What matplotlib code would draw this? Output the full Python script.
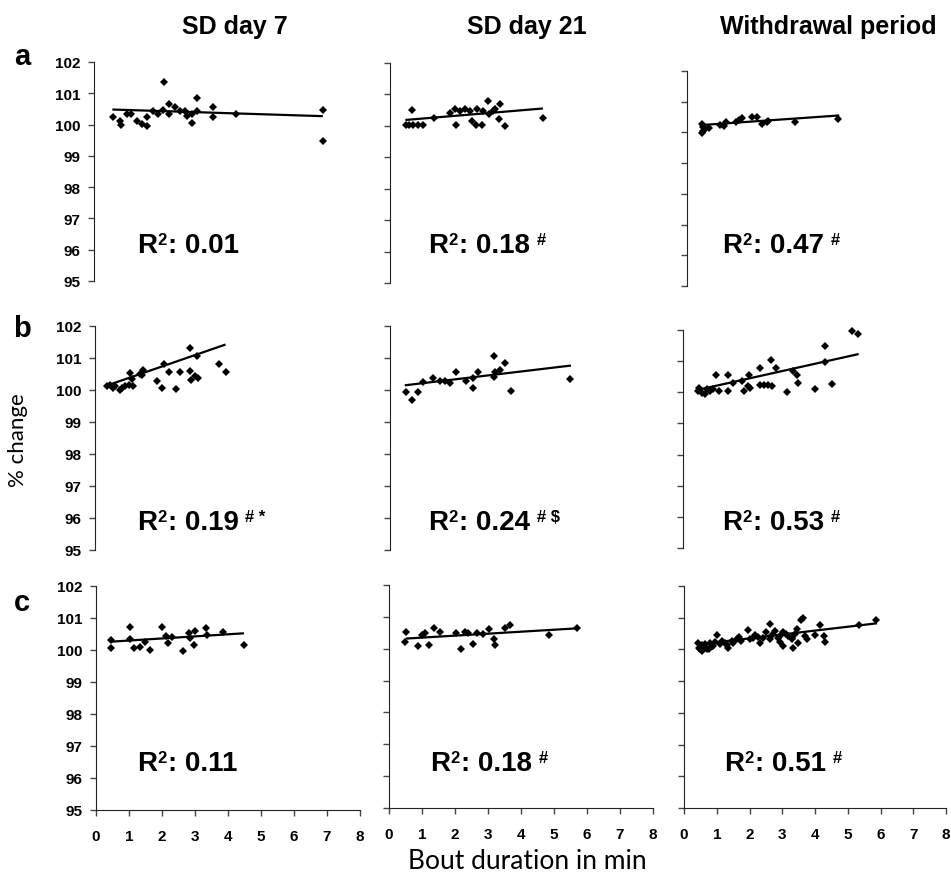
import matplotlib
matplotlib.use("Agg")
import matplotlib.pyplot as plt

plt.rcParams['font.family'] = ['Liberation Sans', 'DejaVu Sans']
plt.rcParams['font.weight'] = 'bold'

# ---- data (bout duration in min, % change) ----
col_titles = ["SD day 7", "SD day 21", "Withdrawal period"]
row_letters = ["a", "b", "c"]

a1_x = [0.57, 0.79, 0.81, 0.99, 1.11, 1.29, 1.44, 1.62, 1.60, 1.78, 1.95, 2.12, 2.10, 2.27,
        2.28, 2.45, 2.61, 2.76, 2.81, 2.96, 2.96, 3.11, 3.13, 3.62, 3.62, 4.29, 6.95, 6.95]
a1_y = [100.23, 100.13, 100.00, 100.34, 100.34, 100.13, 100.02, 99.95, 100.23, 100.44, 100.34,
        101.35, 100.48, 100.66, 100.34, 100.55, 100.44, 100.44, 100.28, 100.05, 100.34, 100.84,
        100.44, 100.55, 100.23, 100.34, 100.47, 99.49]
a2_x = [0.48, 0.59, 0.71, 0.86, 1.01, 0.66, 1.33, 1.82, 1.97, 2.00, 2.12, 2.27, 2.42, 2.48,
        2.63, 2.61, 2.78, 2.83, 2.98, 3.01, 3.13, 3.18, 3.33, 3.31, 3.48, 4.63]
a2_y = [100.02, 100.02, 100.02, 100.02, 100.02, 100.50, 100.26, 100.42, 100.53, 100.02, 100.48,
        100.53, 100.48, 100.16, 100.53, 100.02, 100.02, 100.48, 100.80, 100.37, 100.48, 100.53,
        100.69, 100.21, 99.99, 100.24]
a3_x = [0.45, 0.48, 0.50, 0.45, 0.55, 0.69, 1.02, 1.14, 1.20, 1.51, 1.61, 1.68, 1.99, 2.14,
        2.30, 2.45, 2.50, 3.32, 4.65]
a3_y = [100.27, 100.17, 100.06, 99.98, 100.11, 100.13, 100.24, 100.20, 100.33, 100.33, 100.41,
        100.47, 100.49, 100.49, 100.27, 100.33, 100.36, 100.33, 100.44]

b1_x = [0.35, 0.45, 0.54, 0.61, 0.74, 0.81, 0.91, 1.04, 1.06, 1.14, 1.11, 1.36, 1.44, 1.41,
        1.87, 2.02, 2.09, 2.24, 2.45, 2.58, 2.88, 2.88, 2.91, 3.03, 3.08, 3.10, 3.74, 3.94]
b1_y = [100.13, 100.16, 100.05, 100.11, 100.00, 100.05, 100.13, 100.16, 100.53, 100.11, 100.34,
        100.51, 100.64, 100.48, 100.27, 100.05, 100.80, 100.55, 100.02, 100.55, 101.30, 100.58,
        100.32, 100.45, 101.06, 100.37, 100.80, 100.55]
b2_x = [0.48, 0.66, 0.86, 1.01, 1.31, 1.52, 1.67, 1.82, 2.00, 2.30, 2.53, 2.53, 2.68, 3.15,
        3.15, 3.18, 3.33, 3.48, 3.66, 5.44]
b2_y = [99.93, 99.68, 99.93, 100.25, 100.36, 100.28, 100.28, 100.23, 100.57, 100.28, 100.36,
        100.07, 100.57, 101.05, 100.42, 100.57, 100.63, 100.84, 99.96, 100.33]
b3_x = [0.50, 0.47, 0.57, 0.67, 0.72, 0.82, 0.92, 1.01, 1.08, 1.38, 1.38, 1.52, 1.79, 1.86,
        1.99, 2.02, 2.04, 2.33, 2.35, 2.45, 2.60, 2.67, 2.70, 2.84, 3.16, 3.36, 3.47, 3.49,
        4.02, 4.33, 4.33, 4.53, 5.14, 5.31]
b3_y = [100.14, 100.03, 99.98, 99.93, 100.09, 100.03, 100.09, 100.54, 100.03, 100.54, 100.03,
        100.30, 100.35, 100.03, 100.19, 100.57, 100.14, 100.79, 100.25, 100.22, 100.22, 101.03,
        100.19, 100.79, 100.00, 100.68, 100.57, 100.30, 100.12, 101.48, 100.97, 100.28, 101.97,
        101.86]

c1_x = [0.45, 0.45, 1.02, 1.02, 1.16, 1.34, 1.49, 1.65, 2.00, 2.13, 2.17, 2.30, 2.65, 2.81,
        2.86, 2.98, 3.01, 3.34, 3.36, 3.85, 4.47]
c1_y = [100.31, 100.05, 100.72, 100.34, 100.05, 100.10, 100.26, 99.99, 100.72, 100.44, 100.23,
        100.41, 99.96, 100.52, 100.36, 100.17, 100.59, 100.69, 100.48, 100.57, 100.17]
c2_x = [0.52, 0.48, 0.89, 0.99, 1.09, 1.22, 1.36, 1.55, 2.03, 2.17, 2.30, 2.40, 2.56, 2.68,
        2.86, 3.04, 3.18, 3.21, 3.52, 3.67, 4.86, 5.71]
c2_y = [100.53, 100.21, 100.08, 100.43, 100.50, 100.11, 100.64, 100.53, 100.50, 100.00, 100.53,
        100.50, 100.14, 100.50, 100.46, 100.61, 100.32, 100.11, 100.64, 100.75, 100.43, 100.64]
c3_x = [0.44, 0.47, 0.54, 0.64, 0.69, 0.79, 0.85, 0.95, 1.02, 1.10, 1.25, 1.35, 1.46, 1.61,
        1.69, 1.96, 2.02, 2.17, 2.32, 2.42, 2.50, 2.63, 2.63, 2.78, 2.88, 2.93, 3.03, 3.03,
        3.19, 3.29, 3.34, 3.44, 3.49, 3.64, 3.69, 3.75, 4.00, 4.15, 4.27, 4.31, 5.35, 5.86,
        0.50, 0.55, 0.60, 0.75, 0.90, 1.15, 1.30, 1.50, 1.75, 2.10, 2.25, 2.70, 2.95, 3.10,
        3.30, 3.40, 3.58]
c3_y = [100.21, 100.05, 100.13, 100.16, 100.02, 100.21, 100.10, 100.23, 100.44, 100.16, 100.21,
        100.05, 100.26, 100.32, 100.40, 100.61, 100.32, 100.47, 100.21, 100.37, 100.55, 100.79,
        100.32, 100.58, 100.37, 100.23, 100.10, 100.55, 100.42, 100.33, 100.05, 100.63, 100.21,
        101.00, 100.42, 100.32, 100.47, 100.76, 100.42, 100.23, 100.76, 100.92,
        100.00, 99.95, 100.08, 100.00, 100.12, 100.28, 100.15, 100.20, 100.28, 100.35, 100.40,
        100.45, 100.45, 100.50, 100.35, 100.50, 100.92]

# regression lines: (x start, x end), (y start, y end)
a1_fit = ([0.59, 6.90], [100.48, 100.27])
a2_fit = ([0.50, 4.60], [100.19, 100.55])
a3_fit = ([0.45, 4.65], [100.24, 100.55])
b1_fit = ([0.33, 3.91], [100.13, 101.41])
b2_fit = ([0.48, 5.45], [100.15, 100.76])
b3_fit = ([0.50, 5.31], [100.09, 101.22])
c1_fit = ([0.45, 4.45], [100.26, 100.52])
c2_fit = ([0.54, 5.71], [100.32, 100.64])
c3_fit = ([0.44, 5.86], [100.16, 100.82])

r2_values = [["0.01", "0.18", "0.47"],
             ["0.19", "0.24", "0.53"],
             ["0.11", "0.18", "0.51"]]
r2_marks = [["", "#", "#"],
            ["# *", "# $", "#"],
            ["", "#", "#"]]

panels = [[(a1_x, a1_y, a1_fit), (a2_x, a2_y, a2_fit), (a3_x, a3_y, a3_fit)],
          [(b1_x, b1_y, b1_fit), (b2_x, b2_y, b2_fit), (b3_x, b3_y, b3_fit)],
          [(c1_x, c1_y, c1_fit), (c2_x, c2_y, c2_fit), (c3_x, c3_y, c3_fit)]]

# ---- layout (pixel boxes: x0, x1, y0, y1 measured from top) ----
W, H = 951, 879
boxes = [[(94, 358, 63, 282), (390, 654, 64, 284), (687, 947, 72, 287)],
         [(95, 360, 327, 551), (390, 654, 327, 551), (683, 946, 331, 549)],
         [(96, 360, 587, 811), (389, 653, 586, 809), (684, 946, 587, 809)]]
r2_px = [[(137, 253), (428, 253), (722, 253)],
         [(137, 530), (428, 530), (722, 530)],
         [(137, 771), (430, 771), (724, 771)]]

fig = plt.figure(figsize=(W / 100, H / 100), dpi=100)

for r in range(3):
    for c in range(3):
        x0, x1, y0, y1 = boxes[r][c]
        ax = fig.add_axes([x0 / W, 1 - y1 / H, (x1 - x0) / W, (y1 - y0) / H])
        xs, ys, fit = panels[r][c]
        ax.plot(fit[0], fit[1], '-', color='black', lw=1.6, zorder=2)
        ax.plot(xs, ys, 'D', color='black', ms=4.2, mew=0, zorder=3, clip_on=False)
        ax.set_xlim(0, 8)
        ax.set_ylim(95, 102)
        ax.spines['top'].set_visible(False)
        ax.spines['right'].set_visible(False)
        ax.spines['left'].set_color('#222222')
        ax.set_yticks(range(95, 103))
        ax.tick_params(axis='y', direction='out', length=4, width=1, color='#444444',
                       labelsize=11, pad=6, labelleft=(c == 0))
        if r == 2:
            ax.set_xticks(range(0, 9))
            ax.spines['bottom'].set_color('#222222')
            ax.tick_params(axis='x', direction='out', length=4, width=1, color='#444444',
                           labelsize=11, pad=9.5)
        else:
            ax.spines['bottom'].set_visible(False)
            ax.set_xticks([])

        # "R" + small superscript "2" + ": value", then the significance marks
        tx, ty = r2_px[r][c]
        base = 1 - ty / H
        t_r = fig.text(tx / W, base, "R", fontsize=20, ha='left', va='baseline')
        t_2 = ax.annotate("2", xy=(1, 1), xycoords=t_r, xytext=(0.5, 0),
                          textcoords='offset points', ha='left', va='top', fontsize=12)
        t_v = ax.annotate(": " + r2_values[r][c], xy=(1, base),
                          xycoords=(t_2, 'figure fraction'), xytext=(0.5, 0),
                          textcoords='offset points', ha='left', va='baseline', fontsize=20)
        if r2_marks[r][c]:
            ax.annotate(r2_marks[r][c], xy=(1, 1), xycoords=t_v, xytext=(5, 0),
                        textcoords='offset points', ha='left', va='top', fontsize=12)

col_x = [235, 527, 828]
for c in range(3):
    fig.text(col_x[c] / W, 1 - 27 / H, col_titles[c], fontsize=18, ha='center', va='center')

letter_y = [65, 337, 611]
for r in range(3):
    fig.text(22 / W, 1 - letter_y[r] / H, row_letters[r], fontsize=21, ha='center', va='baseline')

fig.text(18 / W, 1 - 440 / H, "% change", fontsize=16, family=['Lato', 'DejaVu Sans'],
         weight='normal', rotation=90, ha='center', va='center')
fig.text(527 / W, 1 - 862 / H, "Bout duration in min", fontsize=19,
         family=['Lato', 'DejaVu Sans'], weight='normal', ha='center', va='center')

fig.savefig("out.png", dpi=100)
